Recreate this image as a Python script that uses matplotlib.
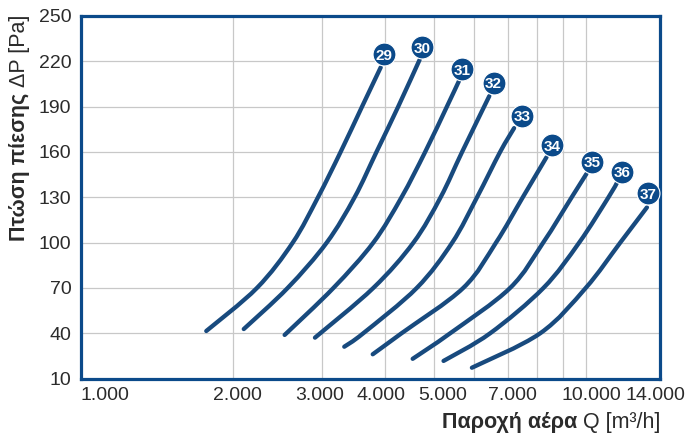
import numpy as np
import matplotlib.pyplot as plt
from matplotlib.path import Path
from matplotlib.patches import PathPatch

plt.rcParams['font.family'] = ['Liberation Sans', 'DejaVu Sans']

# fan curves: air flow Q [m3/h] vs pressure drop dP [Pa]
q29 = [1770, 2230, 2625, 2945, 3265, 3600, 3920]
p29 = [41.5, 70, 100, 130, 160, 190, 216]
q30 = [2100, 2565, 3065, 3480, 3845, 4245, 4680]
p30 = [42.8, 70, 100, 130, 160, 190, 221]
q31 = [2530, 3160, 3790, 4310, 4800, 5300, 5600]
p31 = [38.9, 70, 100, 130, 160, 190, 207]
q32 = [2905, 3790, 4550, 5150, 5680, 6430]
p32 = [37.1, 70, 100, 130, 160, 197]
q33 = [3320, 3620, 4620, 5430, 6080, 6755, 7200]
p33 = [31.1, 40, 70, 100, 130, 160, 175.8]
q34 = [3780, 4310, 5710, 6630, 7490, 8345]
p34 = [26.1, 40, 70, 100, 130, 156.5]
q35 = [4535, 5380, 7070, 8220, 9360, 10010]
p35 = [23.1, 40, 70, 100, 130, 145.5]
q36 = [5220, 6455, 8230, 9685, 11070, 11500]
p36 = [21.7, 40, 70, 100, 130, 139.5]
q37 = [5940, 8110, 9980, 11680, 13190]
p37 = [17.2, 40, 70, 100, 123.3]

badge_labels = ['29', '30', '31', '32', '33', '34', '35', '36', '37']
badge_q = [3985, 4735, 5690, 6555, 7480, 8550, 10260, 11770, 13240]
badge_p = [224.7, 229.2, 214.9, 205.9, 184.0, 164.3, 153.6, 147.0, 132.6]

xticks = [1000, 2000, 3000, 4000, 5000, 7000, 10000, 14000]
xtick_labels = ['1.000', '2.000', '3.000', '4.000', '5.000', '7.000', '10.000', '14.000']
xminor = [6000, 8000, 9000]
yticks = [10, 40, 70, 100, 130, 160, 190, 220, 250]

curves = [(q29, p29), (q30, p30), (q31, p31), (q32, p32), (q33, p33),
          (q34, p34), (q35, p35), (q36, p36), (q37, p37)]

# label nudges in pixels, as in the original artwork
xlabel_shift = [24, 4, -2, -4, 9, 5, 5, -5]

W, H = 692, 436
line_col = '#184a7e'
frame_col = '#0b4a8a'
text_col = '#2b2b2b'


def smooth_path(q, p):
    # catmull-rom through the read points, in log-x space
    pts = np.column_stack([np.log10(q), p])
    n = len(pts)
    verts = [pts[0]]
    codes = [Path.MOVETO]
    for i in range(n - 1):
        a = pts[i - 1] if i > 0 else pts[i]
        b = pts[i]
        c = pts[i + 1]
        d = pts[i + 2] if i + 2 < n else pts[i + 1]
        verts += [b + (c - a) / 6, c - (d - b) / 6, c]
        codes += [Path.CURVE4] * 3
    verts = np.array(verts)
    verts[:, 0] = 10 ** verts[:, 0]
    return Path(verts, codes)


fig = plt.figure(figsize=(W / 100, H / 100), dpi=100)
ax = fig.add_axes([81 / W, 1 - 378.6 / H, 579 / W, 362.6 / H])
ax.set_xscale('log')
ax.set_xlim(1000, 14000)
ax.set_ylim(10, 250)

ax.set_xticks(xticks)
ax.set_xticklabels([])
ax.set_xticks(xminor, minor=True)
ax.set_xticklabels([], minor=True)
ax.set_yticks(yticks)
ax.grid(True, which='both', color='#c8c8c8', lw=0.9)
ax.set_axisbelow(True)
ax.tick_params(which='both', length=0, labelsize=14, colors=text_col)
ax.tick_params(axis='y', pad=7)

for v, lab, dx in zip(xticks, xtick_labels, xlabel_shift):
    ax.annotate(lab, xy=(v, 0), xycoords=('data', 'axes fraction'),
                xytext=(dx * 0.72, -6), textcoords='offset points',
                ha='center', va='top', fontsize=14, color=text_col,
                annotation_clip=False)

for s in ax.spines.values():
    s.set_color(frame_col)
    s.set_linewidth(2.3)

for q, p in curves:
    ax.add_patch(PathPatch(smooth_path(q, p), fill=False, edgecolor=line_col,
                           lw=3.1, capstyle='round', joinstyle='round'))

ax.plot(badge_q, badge_p, 'o', ms=16.5, mfc=frame_col, mec='white', mew=0.8,
        clip_on=False, zorder=5, ls='none')
for lab, q, p in zip(badge_labels, badge_q, badge_p):
    ax.text(q, p, lab, ha='center', va='center_baseline', color='white',
            fontsize=11, fontweight='bold', zorder=6, clip_on=False)

# axis titles: bold part + regular part
fig.canvas.draw()
r = fig.canvas.get_renderer()

tq = fig.text(660 / W, 1 - 428 / H, 'Q [m³/h]', ha='right', va='baseline',
              fontsize=15.5, color=text_col)
bb = tq.get_window_extent(r)
fig.text((bb.x0 - 5) / W, 1 - 428 / H, 'Παροχή αέρα', ha='right', va='baseline',
         fontsize=15.5, fontweight='bold', color=text_col)

tp = fig.text(25 / W, 1 - 15 / H, 'ΔP [Pa]', rotation=90, rotation_mode='anchor',
              ha='right', va='baseline', fontsize=15.5, color=text_col)
bb = tp.get_window_extent(r)
fig.text(25 / W, (bb.y0 - 5) / H, 'Πτώση πίεσης', rotation=90, rotation_mode='anchor',
         ha='right', va='baseline', fontsize=15.5, fontweight='bold', color=text_col)

fig.savefig('out.png', dpi=100)
